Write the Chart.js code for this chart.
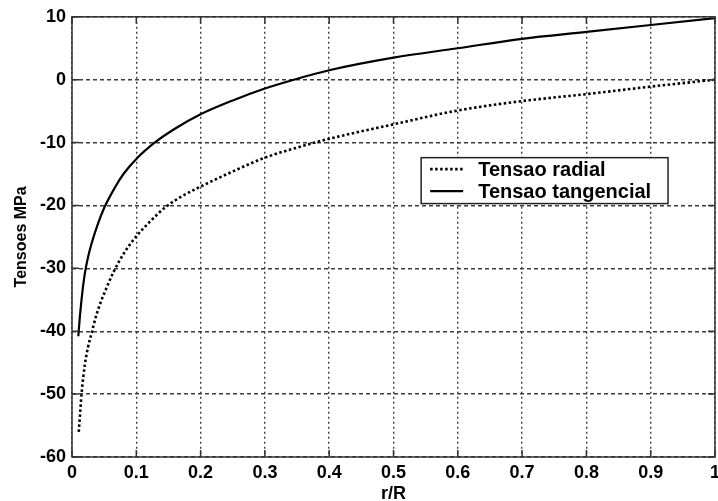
<!DOCTYPE html>
<html>
<head>
<meta charset="utf-8">
<script src="https://cdn.jsdelivr.net/npm/chart.js@4.4.0/dist/chart.umd.min.js"></script>
<style>
  html, body { margin: 0; padding: 0; background: #fff; overflow: hidden; }
  #wrap { width: 725px; height: 501px; position: relative; }
</style>
</head>
<body>
<div id="wrap"><canvas id="grafico"></canvas></div>
<script>
// r/R e tensoes
const rRadial = [0.0105, 0.013, 0.015, 0.02, 0.025, 0.031, 0.038, 0.046, 0.055, 0.064, 0.082, 0.1, 0.12, 0.145, 0.17, 0.2, 0.25, 0.3, 0.35, 0.4, 0.5, 0.6, 0.7, 0.8, 0.9, 1.0];
const tensaoRadial = [-56, -52.5, -49.8, -45.3, -42.5, -40.1, -37.4, -35.0, -32.8, -30.7, -27.4, -24.9, -22.7, -20.3, -18.6, -17.0, -14.6, -12.4, -10.8, -9.4, -7.1, -4.9, -3.4, -2.3, -1.1, 0];

const rTang = [0.0098, 0.012, 0.015, 0.02, 0.025, 0.03, 0.04, 0.05, 0.067, 0.08, 0.1, 0.13, 0.16, 0.2, 0.25, 0.3, 0.345, 0.4, 0.5, 0.6, 0.7, 0.8, 0.9, 1.0];
const tensaoTang = [-40.8, -38, -34.8, -30.8, -28.2, -26.2, -23.0, -20.4, -17.1, -15.0, -12.6, -9.9, -7.8, -5.5, -3.3, -1.4, 0, 1.5, 3.5, 5.0, 6.5, 7.6, 8.7, 9.8];

const nomes = ["Tensao radial", "Tensao tangencial"];
const xTitulo = "r/R";
const yTitulo = "Tensoes MPa";

const fonte = '"Liberation Sans", Arial, sans-serif';

function pontos(xs, ys) {
  return xs.map((x, i) => ({ x: x, y: ys[i] }));
}

// moldura, marcas internas e legenda ao estilo matlab
const moldura = {
  id: "moldura",
  afterDatasetsDraw(chart) {
    const ctx = chart.ctx;
    const a = chart.chartArea;
    const sx = chart.scales.x;
    const sy = chart.scales.y;
    ctx.save();
    ctx.strokeStyle = "#333";
    ctx.lineWidth = 1.5;
    ctx.setLineDash([]);
    ctx.strokeRect(a.left, a.top, a.right - a.left, a.bottom - a.top);

    ctx.beginPath();
    sx.ticks.forEach(t => {
      const px = sx.getPixelForValue(t.value);
      ctx.moveTo(px, a.bottom); ctx.lineTo(px, a.bottom - 7);
      ctx.moveTo(px, a.top); ctx.lineTo(px, a.top + 7);
    });
    sy.ticks.forEach(t => {
      const py = sy.getPixelForValue(t.value);
      ctx.moveTo(a.left, py); ctx.lineTo(a.left + 7, py);
      ctx.moveTo(a.right, py); ctx.lineTo(a.right - 7, py);
    });
    ctx.stroke();

    // legenda
    const L = sx.getPixelForValue(0.543);
    const R = sx.getPixelForValue(0.927);
    const T = sy.getPixelForValue(-12.4);
    const B = sy.getPixelForValue(-19.7);
    ctx.fillStyle = "#fff";
    ctx.fillRect(L, T, R - L, B - T);
    ctx.lineWidth = 1.5;
    ctx.strokeStyle = "#222";
    ctx.strokeRect(L, T, R - L, B - T);

    const linhas = [T + 11.5, T + 33.5];
    chart.data.datasets.forEach((ds, i) => {
      ctx.beginPath();
      ctx.strokeStyle = ds.borderColor;
      ctx.lineWidth = ds.borderWidth;
      ctx.setLineDash(ds.borderDash || []);
      ctx.moveTo(L + 9, linhas[i]);
      ctx.lineTo(L + 42, linhas[i]);
      ctx.stroke();
      ctx.setLineDash([]);
      ctx.fillStyle = "#000";
      ctx.font = "bold 20px " + fonte;
      ctx.textBaseline = "middle";
      ctx.textAlign = "left";
      ctx.fillText(ds.label, L + 57, linhas[i] + 1);
    });
    ctx.restore();
  }
};

const dados = {
  datasets: [
    {
      label: nomes[0],
      data: pontos(rRadial, tensaoRadial),
      borderColor: "#000",
      borderWidth: 2.6,
      borderDash: [2.5, 2.5],
      pointRadius: 0,
      cubicInterpolationMode: "monotone",
      fill: false
    },
    {
      label: nomes[1],
      data: pontos(rTang, tensaoTang),
      borderColor: "#000",
      borderWidth: 2.2,
      pointRadius: 0,
      cubicInterpolationMode: "monotone",
      fill: false
    }
  ]
};

const config = {
  type: "line",
  data: dados,
  options: {
    responsive: true,
    maintainAspectRatio: false,
    animation: false,
    layout: { padding: { top: 16, left: 0, right: 0, bottom: 0 } },
    plugins: { legend: { display: false }, tooltip: { enabled: false } },
    scales: {
      x: {
        type: "linear",
        min: 0,
        max: 1,
        afterFit: s => { s.height = 44; },
        ticks: {
          stepSize: 0.1,
          color: "#000",
          padding: 5,
          font: { family: fonte, size: 18, weight: "bold" },
          callback: v => String(+v.toFixed(1))
        },
        grid: { color: "#3c3c3c", lineWidth: 1.4, drawTicks: false },
        border: { display: false, dash: [2, 3] },
        title: {
          display: true,
          text: xTitulo,
          color: "#000",
          padding: { top: 0, bottom: -2 },
          font: { family: fonte, size: 18, weight: "bold", lineHeight: 1 }
        }
      },
      y: {
        min: -60,
        max: 10,
        afterFit: s => { s.width = 72; },
        ticks: {
          stepSize: 10,
          color: "#000",
          padding: 6,
          font: { family: fonte, size: 18, weight: "bold" }
        },
        grid: { color: "#3c3c3c", lineWidth: 1.4, drawTicks: false },
        border: { display: false, dash: [4, 3] },
        title: {
          display: true,
          text: yTitulo,
          color: "#000",
          padding: { top: 12, bottom: 0 },
          font: { family: fonte, size: 16, weight: "bold" }
        }
      }
    }
  },
  plugins: [moldura]
};

new Chart(document.getElementById("grafico"), config);
</script>
</body>
</html>
